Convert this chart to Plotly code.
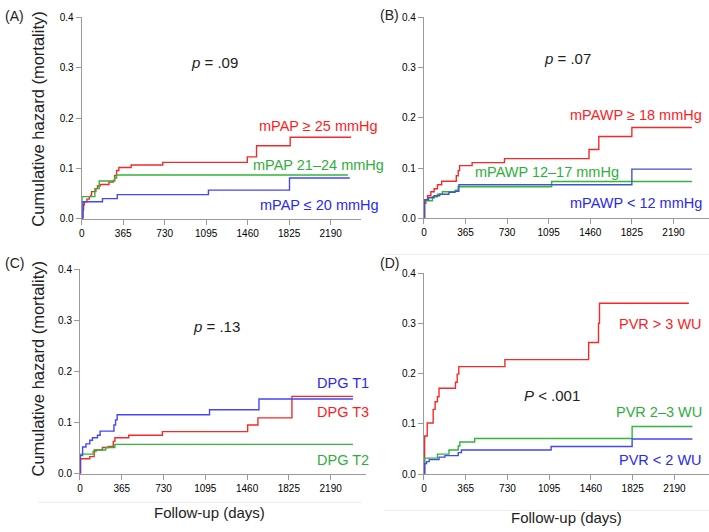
import plotly.graph_objects as go

W, H = 709, 532

# ---------------- data (days, cumulative hazard) ----------------
# Panel A: mPAP
a_hi_days = [0, 9, 17, 23, 46, 67, 81, 87, 125, 139, 162, 240, 278, 290, 307, 327, 435, 713, 1457, 1538, 1834, 2370]
a_hi_vals = [0, 0.018, 0.028, 0.034, 0.039, 0.044, 0.047, 0.054, 0.060, 0.065, 0.068, 0.073, 0.076, 0.086, 0.096, 0.102, 0.107, 0.112, 0.123, 0.145, 0.162, 0.162]
a_mid_days = [0, 3, 116, 154, 290, 307, 2342]
a_mid_vals = [0, 0.044, 0.060, 0.075, 0.081, 0.087, 0.087]
a_lo_days = [0, 12, 183, 313, 1115, 1828, 2358]
a_lo_vals = [0, 0.034, 0.040, 0.048, 0.057, 0.081, 0.081]

# Panel B: mPAWP
b_hi_days = [0, 6, 17, 32, 61, 90, 119, 156, 284, 301, 313, 423, 707, 1449, 1535, 1825, 2352]
b_hi_vals = [0, 0.030, 0.037, 0.045, 0.053, 0.059, 0.067, 0.074, 0.085, 0.095, 0.105, 0.111, 0.119, 0.137, 0.163, 0.181, 0.181]
b_mid_days = [0, 3, 75, 119, 162, 278, 301, 1121, 2352]
b_mid_vals = [0, 0.035, 0.043, 0.048, 0.053, 0.056, 0.063, 0.0735, 0.0735]
b_lo_days = [0, 6, 41, 90, 139, 220, 272, 307, 1825, 2352]
b_lo_vals = [0, 0.037, 0.041, 0.045, 0.048, 0.052, 0.054, 0.067, 0.098, 0.098]

# Panel C: DPG tertiles
c_t1_days = [0, 3, 23, 52, 86, 109, 153, 176, 297, 311, 325, 1132, 1564, 2385]
c_t1_vals = [0, 0.035, 0.052, 0.058, 0.065, 0.070, 0.075, 0.083, 0.095, 0.105, 0.115, 0.125, 0.146, 0.146]
c_t3_days = [0, 6, 86, 124, 196, 248, 291, 305, 426, 720, 1465, 1555, 1852, 2385]
c_t3_vals = [0, 0.029, 0.033, 0.046, 0.051, 0.053, 0.063, 0.070, 0.075, 0.082, 0.095, 0.109, 0.151, 0.151]
c_t2_days = [0, 3, 115, 140, 225, 305, 2385]
c_t2_vals = [0, 0.038, 0.043, 0.046, 0.051, 0.057, 0.057]

# Panel D: PVR
d_hi_days = [0, 6, 29, 81, 98, 118, 132, 276, 291, 305, 708, 1440, 1526, 1535, 2316]
d_hi_vals = [0, 0.076, 0.102, 0.129, 0.144, 0.154, 0.171, 0.183, 0.199, 0.214, 0.228, 0.262, 0.300, 0.340, 0.340]
d_mid_days = [0, 6, 118, 219, 300, 314, 444, 1820, 2347]
d_mid_vals = [0, 0.032, 0.040, 0.048, 0.056, 0.064, 0.071, 0.095, 0.095]
d_lo_days = [0, 6, 23, 46, 132, 184, 300, 328, 1112, 1820, 2347]
d_lo_vals = [0, 0.021, 0.025, 0.029, 0.034, 0.037, 0.043, 0.048, 0.055, 0.070, 0.070]

x_ticks = [0, 365, 730, 1095, 1460, 1825, 2190]
y_ticks = [0, 0.1, 0.2, 0.3, 0.4]
y_tick_text = ["0.0", "0.1", "0.2", "0.3", "0.4"]

RED = "#f42a2a"
GREEN = "#33b43a"
BLUE = "#4646f5"
BLUE_B = "#3f56c4"
TRED = "#ff1c1c"
TGREEN = "#2fae3c"
TBLUE = "#2a2af0"
FONT = "Arial, Liberation Sans, sans-serif"


def px_x(p):
    return p / W


def px_y(p):
    return 1 - p / H


# panel geometry: (x0px, x1px, ybottom px, ytop px, xmax days)
panels = [
    (79.0, 360.0, 217.7, 11.7, 2461),
    (422.7, 709.0, 217.3, 11.7, 2502),
    (77.3, 365.0, 478.3, 269.3, 2503),
    (422.7, 709.0, 479.0, 273.3, 2492),
]

series = [
    [(a_hi_days, a_hi_vals, RED), (a_mid_days, a_mid_vals, GREEN), (a_lo_days, a_lo_vals, BLUE)],
    [(b_hi_days, b_hi_vals, RED), (b_mid_days, b_mid_vals, GREEN), (b_lo_days, b_lo_vals, BLUE_B)],
    [(c_t3_days, c_t3_vals, RED), (c_t2_days, c_t2_vals, GREEN), (c_t1_days, c_t1_vals, BLUE)],
    [(d_hi_days, d_hi_vals, RED), (d_mid_days, d_mid_vals, GREEN), (d_lo_days, d_lo_vals, BLUE)],
]

fig = go.Figure()
layout_axes = {}
for i, (geo, sers) in enumerate(zip(panels, series)):
    n = "" if i == 0 else str(i + 1)
    x0, x1, yb, yt, xmax = geo
    for days, vals, col in sers:
        fig.add_trace(go.Scatter(
            x=days, y=vals, mode="lines", line=dict(color=col, width=1.4, shape="hv"),
            xaxis="x" + n, yaxis="y" + n, showlegend=False, hoverinfo="skip",
        ))
    layout_axes["xaxis" + n] = dict(
        domain=[px_x(x0), px_x(x1)], range=[0, xmax], anchor="y" + n,
        tickvals=x_ticks, ticks="outside", ticklen=5, tickcolor="#9a9a9a",
        showline=True, linecolor="#9a9a9a", linewidth=1, showgrid=False, zeroline=False,
        tickfont=dict(family=FONT, size=10, color="#000"),
    )
    layout_axes["yaxis" + n] = dict(
        domain=[px_y(yb), px_y(yt)], range=[0, 0.4], anchor="x" + n,
        tickvals=y_ticks, ticktext=y_tick_text, ticks="outside", ticklen=5, tickcolor="#9a9a9a",
        showline=True, linecolor="#9a9a9a", linewidth=1, showgrid=False, zeroline=False,
        tickfont=dict(family=FONT, size=10, color="#000"),
    )

ann = []


def add_text(text, x, y, color="#222", size=15, xanchor="center", angle=0):
    ann.append(dict(text=text, x=px_x(x), y=px_y(y), xref="paper", yref="paper",
                    showarrow=False, xanchor=xanchor, yanchor="middle", textangle=angle,
                    font=dict(family=FONT, size=size, color=color)))


# panel letters
add_text("(A)", 0, 10, xanchor="left", size=14)
add_text("(B)", 377, 9, xanchor="left", size=14)
add_text("(C)", 0, 263, xanchor="left", size=14)
add_text("(D)", 377, 263, xanchor="left", size=14)

# y titles
add_text("Cumulative hazard (mortality)", 35, 115.5, size=16.5, angle=-90)
add_text("Cumulative hazard (mortality)", 35, 371, size=16.5, angle=-90)
# x titles
add_text("Follow-up (days)", 207.5, 518, size=15)
add_text("Follow-up (days)", 566, 523, size=15)

# p values
add_text("<i>p</i> = .09", 212, 58, size=15)
add_text("<i>p</i> = .07", 567, 54, size=15)
add_text("<i>p</i> = .13", 214, 328, size=15)
add_text("<i>P</i> &lt; .001", 551, 398, size=15)

# group labels
add_text("mPAP ≥ 25 mmHg", 379, 122.5, color=TRED, size=14.5, xanchor="right")
add_text("mPAP 21–24 mmHg", 385, 163, color=TGREEN, size=14.5, xanchor="right")
add_text("mPAP ≤ 20 mmHg", 380, 204, color=TBLUE, size=14.5, xanchor="right")

add_text("mPAWP ≥ 18 mmHg", 704, 112, color=TRED, size=14.5, xanchor="right")
add_text("mPAWP 12–17 mmHg", 546.5, 170, color=TGREEN, size=14.5)
add_text("mPAWP &lt; 12 mmHg", 704, 202, color=TBLUE, size=14.5, xanchor="right")

add_text("DPG T1", 313, 386, color=TBLUE, size=14.5, xanchor="left")
add_text("DPG T3", 313, 415, color=TRED, size=14.5, xanchor="left")
add_text("DPG T2", 313, 464, color=TGREEN, size=14.5, xanchor="left")

add_text("PVR &gt; 3 WU", 704, 325, color=TRED, size=14.5, xanchor="right")
add_text("PVR 2–3 WU", 704, 415, color=TGREEN, size=14.5, xanchor="right")
add_text("PVR &lt; 2 WU", 704, 464, color=TBLUE, size=14.5, xanchor="right")

shapes = []
for (xa, xb, yy) in [(383, 709, 254), (35, 360, 507.7), (383, 709, 516)]:
    shapes.append(dict(type="line", xref="paper", yref="paper",
                       x0=px_x(xa), x1=px_x(xb), y0=px_y(yy), y1=px_y(yy),
                       line=dict(color="#ebebeb", width=1)))

fig.update_layout(
    width=W, height=H, margin=dict(l=0, r=0, t=0, b=0),
    paper_bgcolor="white", plot_bgcolor="white",
    annotations=ann, shapes=shapes, showlegend=False,
    **layout_axes,
)

fig.write_html(
    "out.html",
    config={"displayModeBar": False, "staticPlot": True},
    post_script="document.body.style.margin='0';document.body.style.overflow='hidden';",
)
